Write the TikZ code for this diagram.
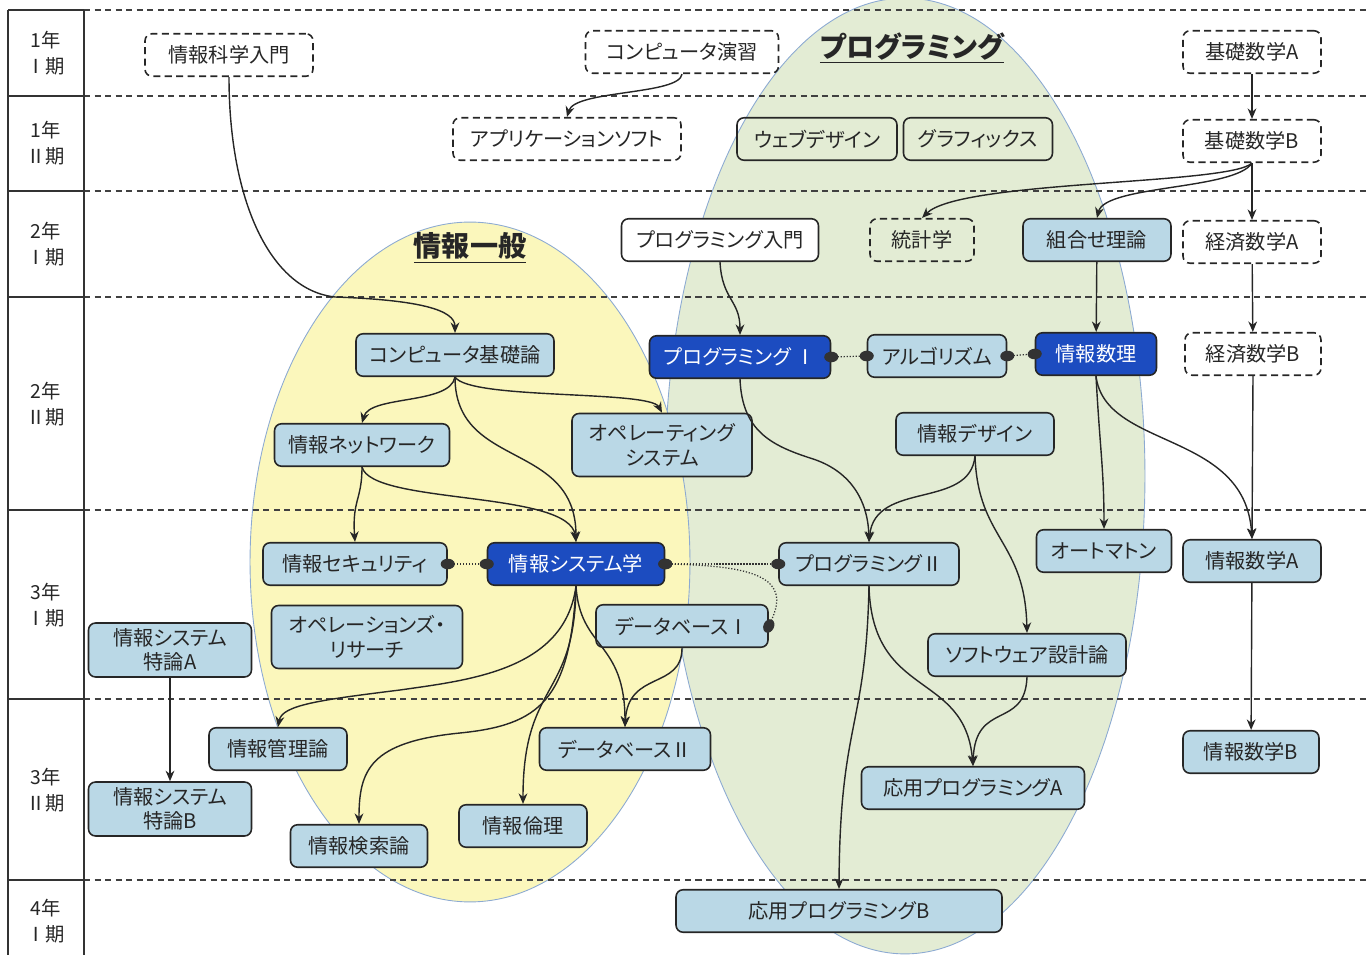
\documentclass[tikz,border=0pt]{standalone}
\usepackage{fontspec}
\setmainfont{Noto Sans CJK JP}[RawFeature={+palt}]
\usepackage{tikz}
\usetikzlibrary{arrows.meta}

\definecolor{kousu}{RGB}{186,216,230}
\definecolor{juyo}{RGB}{28,76,192}
\definecolor{ippan}{RGB}{251,247,188}
\definecolor{puro}{RGB}{227,236,212}
\definecolor{enwaku}{RGB}{140,170,210}

\tikzset{
  kamoku/.style={draw=black!85, line width=0.9pt, rounded corners=4pt, fill=kousu, text=black!85,
    minimum height=0.85cm, inner sep=2pt, align=center, font=\fontsize{11.5pt}{14pt}\selectfont},
  jukamoku/.style={kamoku, fill=juyo, text=white},
  takamoku/.style={kamoku, dash pattern=on 4pt off 2.5pt, fill=none},
  shiro/.style={kamoku, fill=white},
  toumei/.style={kamoku, fill=none},
  ya/.style={draw=black!85, line width=0.8pt, -{Stealth[length=6pt,width=5pt]}},
  rendo/.style={draw=black!80, densely dotted, line width=0.7pt,
    {Circle[length=8pt,width=6pt]}-{Circle[length=8pt,width=6pt]}, shorten <=-4pt, shorten >=-4pt},
  kugiri/.style={draw=black!75, line width=0.7pt, dash pattern=on 3.5pt off 2.5pt},
  waku/.style={draw=black!80, line width=1pt},
  gakki/.style={align=center, text=black!85, font=\fontsize{11pt}{15pt}\selectfont},
  midashi/.style={text=black!85, font=\bfseries\fontsize{16pt}{18pt}\selectfont},
}

\begin{document}
\begin{tikzpicture}[x=0.02cm, y=-0.02cm]
\useasboundingbox (0,0) rectangle (1367,955);

\draw[fill=puro, draw=enwaku, line width=0.5pt] (905,476) ellipse [x radius=4.8cm, y radius=9.56cm];
\draw[fill=ippan, draw=enwaku, line width=0.5pt] (470,562) ellipse [x radius=4.4cm, y radius=6.8cm];

\foreach \y in {10,96,191,297,510,699,880} {
  \draw[kugiri] (84,\y) -- (1367,\y);
  \draw[waku] (8,\y) -- (84,\y);
}
\draw[waku] (8,955) -- (8,10);
\draw[waku] (84,10) -- (84,955);

\foreach \y/\nen/\ki [count=\i] in {53/1年/Ⅰ期, 143/1年/Ⅱ期, 244/2年/Ⅰ期, 404/2年/Ⅱ期,
    605/3年/Ⅰ期, 790/3年/Ⅱ期, 921/4年/Ⅰ期}
  \node[gakki] (g\i) at (46,\y) {\nen\\\ki};

\node[midashi] (t1) at (470,248) {\underline{情報一般}};
\node[midashi] (t2) at (912,48) {\underline{プログラミング}};

\node[takamoku, minimum width=3.36cm] (jkn) at (229,55) {情報科学入門};
\node[takamoku, minimum width=3.86cm] (cen) at (682,52) {コンピュータ演習};
\node[takamoku, minimum width=2.76cm] (kmA) at (1252,52) {基礎数学A};
\node[takamoku, minimum width=4.56cm] (aps) at (567,139) {アプリケーションソフト};
\node[toumei, minimum width=3.2cm] (web) at (817,139) {ウェブデザイン};
\node[toumei, minimum width=2.98cm] (grf) at (978,139) {グラフィックス};
\node[takamoku, minimum width=2.76cm] (kmB) at (1252,141) {基礎数学B};
\node[shiro, minimum width=3.94cm] (pnm) at (720,240) {プログラミング入門};
\node[takamoku, minimum width=2.08cm] (tok) at (922,240) {統計学};
\node[kamoku, minimum width=2.96cm] (kum) at (1097,240) {組合せ理論};
\node[takamoku, minimum width=2.76cm] (keA) at (1252,242) {経済数学A};
\node[kamoku, minimum width=3.96cm] (ckr) at (455,355) {コンピュータ基礎論};
\node[jukamoku, minimum width=3.62cm] (pg1) at (740,357) {プログラミング Ⅰ};
\node[kamoku, minimum width=2.78cm] (alg) at (937,356) {アルゴリズム};
\node[jukamoku, minimum width=2.42cm] (jsr) at (1096,354) {情報数理};
\node[takamoku, minimum width=2.72cm] (keB) at (1253,354) {経済数学B};
\node[kamoku, minimum width=3.5cm] (net) at (362,445) {情報ネットワーク};
\node[kamoku, minimum width=3.6cm, minimum height=1.26cm] (os) at (662,445) {オペレーティング\\システム};
\node[kamoku, minimum width=3.16cm] (jde) at (975,434) {情報デザイン};
\node[kamoku, minimum width=3.68cm] (sec) at (355,564) {情報セキュリティ};
\node[jukamoku, minimum width=3.54cm] (jss) at (576,564) {情報システム学};
\node[kamoku, minimum width=3.6cm] (pg2) at (869,564) {プログラミングⅡ};
\node[kamoku, minimum width=2.7cm] (atm) at (1104,551) {オートマトン};
\node[kamoku, minimum width=2.76cm] (jmA) at (1252,561) {情報数学A};
\node[kamoku, minimum width=3.82cm, minimum height=1.26cm] (orr) at (367,637) {オペレーションズ・\\リサーチ};
\node[kamoku, minimum width=3.44cm] (db1) at (682,626) {データベースⅠ};
\node[kamoku, minimum width=3.26cm, minimum height=1.08cm] (tkA) at (170,650) {情報システム\\特論A};
\node[kamoku, minimum width=3.96cm] (sft) at (1027,655) {ソフトウェア設計論};
\node[kamoku, minimum width=2.76cm] (kan) at (278,749) {情報管理論};
\node[kamoku, minimum width=3.42cm] (db2) at (625,749) {データベースⅡ};
\node[kamoku, minimum width=4.46cm] (apA) at (973,788) {応用プログラミングA};
\node[kamoku, minimum width=2.72cm] (jmB) at (1251,752) {情報数学B};
\node[kamoku, minimum width=3.26cm, minimum height=1.08cm] (tkB) at (170,809) {情報システム\\特論B};
\node[kamoku, minimum width=2.56cm] (rin) at (523,826) {情報倫理};
\node[kamoku, minimum width=2.74cm] (ken) at (359,846) {情報検索論};
\node[kamoku, minimum width=6.52cm] (apB) at (839,911) {応用プログラミングB};

\draw[ya] (jkn.south) .. controls (229,200) and (270,290) .. (335,297) .. controls (420,300) and (455,310) .. (ckr.north);
\draw[ya] (cen.south) .. controls (680,95) and (575,90) .. (aps.north);
\draw[ya] (kmA) -- (kmB);
\draw[ya] (kmB.south) .. controls (1230,185) and (960,180) .. (tok.north);
\draw[ya] (kmB.south) .. controls (1235,190) and (1105,185) .. (kum.north);
\draw[ya] (kmB) -- (keA);
\draw[ya] (keA) -- (keB);
\draw[ya] (keB.south) -- (jmA.north);
\draw[ya] (jmA) -- (jmB);
\draw[ya] (pnm.south) .. controls (722,300) and (740,300) .. (pg1.north);
\draw[ya] (kum) -- (jsr);
\draw[ya] (ckr.south) .. controls (450,405) and (370,395) .. (net.north);
\draw[ya] (ckr.south) .. controls (470,400) and (650,390) .. (os.north);
\draw[ya] (ckr.south) .. controls (455,470) and (576,440) .. (jss.north);
\draw[ya] (net.south) .. controls (362,500) and (352,500) .. (sec.north);
\draw[ya] (net.south) .. controls (372,505) and (570,490) .. (jss.north);
\draw[ya] (pg1.south) .. controls (742,430) and (770,445) .. (810,458) .. controls (850,470) and (868,500) .. (pg2.north);
\draw[ya] (jde.south) .. controls (970,510) and (875,480) .. (pg2.north);
\draw[ya] (jde.south) .. controls (978,540) and (1025,540) .. (sft.north);
\draw[ya] (jsr.south) .. controls (1100,450) and (1104,470) .. (atm.north);
\draw[ya] (jsr.south) .. controls (1105,450) and (1245,430) .. (jmA.north);
\draw[ya] (jss.south) .. controls (565,670) and (470,680) .. (400,690) .. controls (320,700) and (282,705) .. (kan.north);
\draw[ya] (jss.south) .. controls (570,700) and (540,725) .. (460,733) .. controls (370,742) and (359,770) .. (ken.north);
\draw[ya] (jss.south) .. controls (575,700) and (523,680) .. (rin.north);
\draw[ya] (jss.south) .. controls (580,650) and (625,640) .. (db2.north);
\draw[ya] (db1.south) .. controls (682,690) and (628,670) .. (db2.north);
\draw[ya] (pg2.south) .. controls (872,700) and (965,670) .. (apA.north);
\draw[ya] (sft.south) .. controls (1025,730) and (975,700) .. (apA.north);
\draw[ya] (pg2.south) .. controls (866,730) and (840,720) .. (apB.north);
\draw[ya] (tkA) -- (tkB);

\draw[rendo] (sec.east) -- (jss.west);
\draw[rendo] (jss.east) -- (pg2.west);
\draw[rendo] (jss.east) .. controls (760,566) and (790,580) .. (db1.east);
\draw[rendo] (pg1.east) -- (alg.west);
\draw[rendo] (alg.east) -- (jsr.west);
\end{tikzpicture}
\end{document}
